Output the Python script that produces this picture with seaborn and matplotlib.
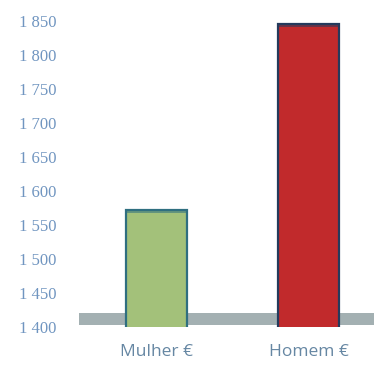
import matplotlib
matplotlib.use("Agg")
import matplotlib.pyplot as plt
import seaborn as sns
import pandas as pd

categories = ["Mulher €", "Homem €"]
values = [1572, 1845]
bar_colors = ["#a3c17a", "#c12a2c"]
edge_colors = ["#2f6f80", "#243a5c"]
tick_values = [1400, 1450, 1500, 1550, 1600, 1650, 1700, 1750, 1800, 1850]
tick_labels = ["1 400", "1 450", "1 500", "1 550", "1 600",
               "1 650", "1 700", "1 750", "1 800", "1 850"]

df = pd.DataFrame({"categoria": categories, "valor": values})

sns.set_theme(style="white")
fig = plt.figure(figsize=(3.74, 3.67), dpi=100)
ax = fig.add_axes([0.195, 0.109, 0.805, 0.843])

sns.barplot(data=df, x="categoria", y="valor", hue="categoria",
            palette=bar_colors, width=0.4, legend=False, ax=ax, zorder=2,
            saturation=1)
for container, ec in zip(ax.containers, edge_colors):
    for patch in container:
        patch.set_edgecolor(ec)
        patch.set_linewidth(1.6)

# floor of the chart
ax.axhspan(1403, 1420, xmin=0.02, xmax=1.0, facecolor="#a3b0b2",
           edgecolor="none", linewidth=0, zorder=0)

# darker top face on each bar
for cat_i, (v, ec) in enumerate(zip(values, edge_colors)):
    ax.fill_between([cat_i - 0.2, cat_i + 0.2], v - 4, v, color=ec,
                    alpha=0.55, zorder=3, linewidth=0)

ax.set_xlim(-0.55, 1.43)
ax.set_ylim(1400, 1855)
ax.set_yticks(tick_values)
ax.set_yticklabels(tick_labels, fontfamily="Liberation Serif",
                   fontsize=12, color="#7095c0")
ax.tick_params(axis="y", length=0, pad=12)
ax.tick_params(axis="x", length=0, pad=12, labelsize=12.5,
               labelcolor="#6687a3")
for lbl in ax.get_xticklabels():
    lbl.set_fontfamily("Open Sans")
ax.set_xlabel("")
ax.set_ylabel("")
for s in ax.spines.values():
    s.set_visible(False)
ax.grid(False)

fig.savefig("out.png", dpi=100)
